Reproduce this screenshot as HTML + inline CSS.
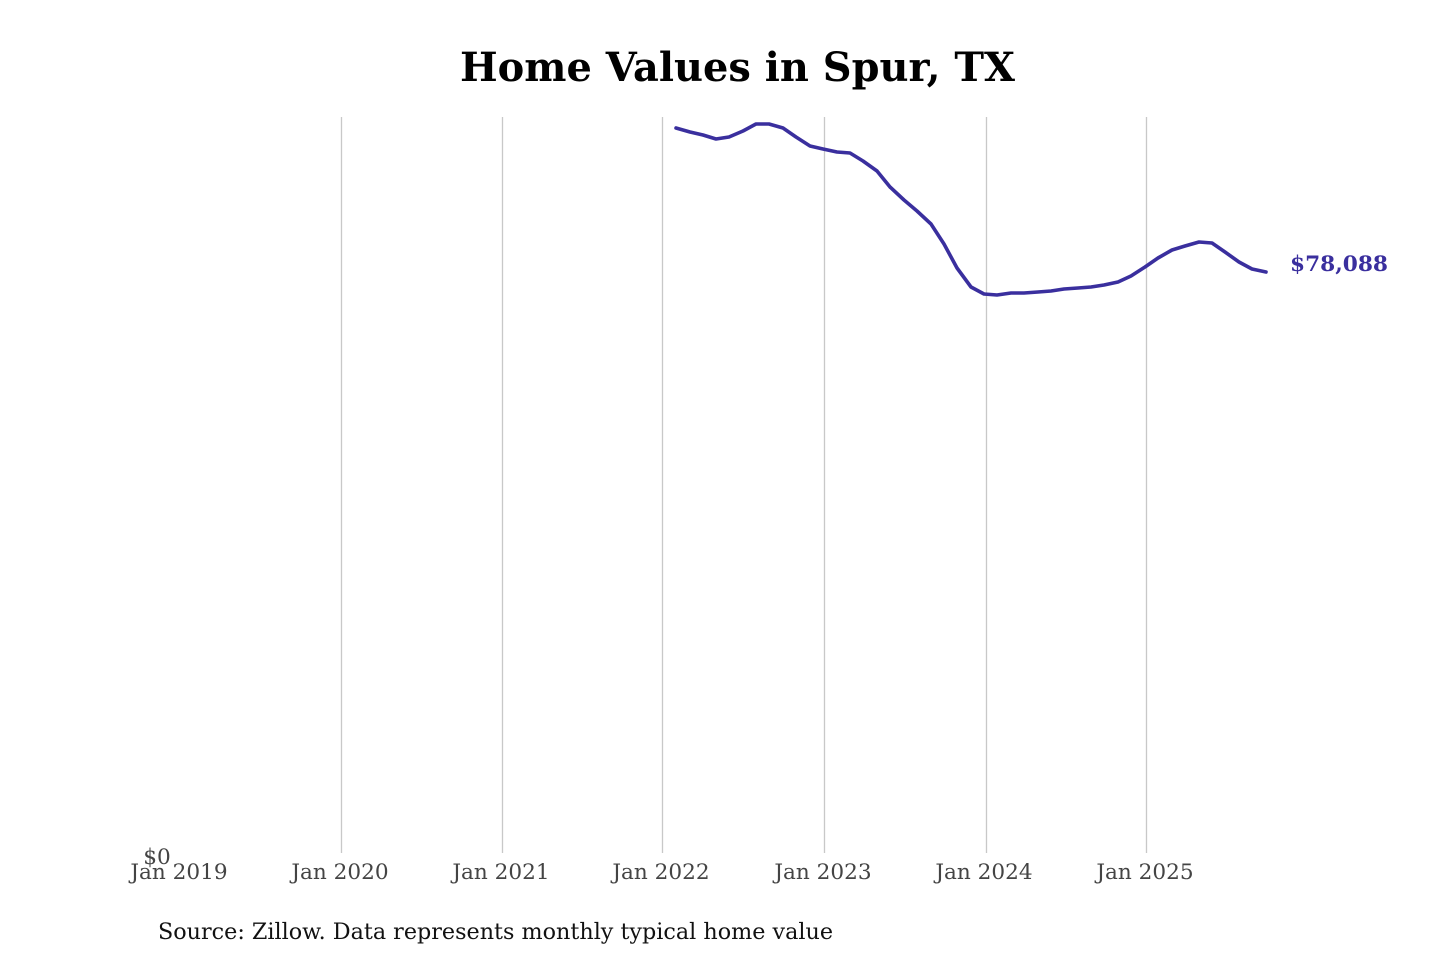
<!DOCTYPE html>
<html><head><meta charset="utf-8"><style>
html,body{margin:0;padding:0;background:#fff;width:1440px;height:960px;overflow:hidden}
svg{display:block}
</style></head><body>
<svg width="1440" height="960" xmlns="http://www.w3.org/2000/svg" font-family="DejaVu Serif, Liberation Serif, serif">
<text x="460" y="81" font-size="40" font-weight="bold" fill="#000" textLength="555" lengthAdjust="spacingAndGlyphs">Home Values in Spur, TX</text>
<g stroke="#c8c8c8" stroke-width="1.3">
<line x1="341.5" y1="117" x2="341.5" y2="853"/>
<line x1="502.5" y1="117" x2="502.5" y2="853"/>
<line x1="662.5" y1="117" x2="662.5" y2="853"/>
<line x1="824.5" y1="117" x2="824.5" y2="853"/>
<line x1="986.5" y1="117" x2="986.5" y2="853"/>
<line x1="1146.5" y1="117" x2="1146.5" y2="853"/>
</g>
<polyline fill="none" stroke="#3a2f9e" stroke-width="3.6" stroke-linejoin="round" stroke-linecap="round" points="676,128 690,132 703,135 716,139 729,137 743,131 756,124 769,124 783,128 796,137 810,146 823,149 837,152 850,153 863,161 877,171 890,187 904,200 917,211 931,224 944,244 957,268 971,287 984,294 997,295 1011,293 1024,293 1038,292 1051,291 1064,289 1078,288 1091,287 1104,285 1118,282 1131,276 1145,267 1158,258 1172,250 1185,246 1199,242 1212,243 1225,252 1239,262 1252,269 1266,272"/>
<text x="1290" y="271" font-size="21" font-weight="bold" fill="#3a2f9e" textLength="98" lengthAdjust="spacingAndGlyphs">$78,088</text>
<g font-size="21.6" fill="#444" text-anchor="middle">
<text x="157" y="864">$0</text>
<text x="179" y="879">Jan 2019</text>
<text x="340" y="879">Jan 2020</text>
<text x="501" y="879">Jan 2021</text>
<text x="661" y="879">Jan 2022</text>
<text x="823" y="879">Jan 2023</text>
<text x="984" y="879">Jan 2024</text>
<text x="1145" y="879">Jan 2025</text>
</g>
<text x="158" y="939" font-size="22" fill="#111" textLength="675" lengthAdjust="spacingAndGlyphs">Source: Zillow. Data represents monthly typical home value</text>
</svg>
</body></html>
